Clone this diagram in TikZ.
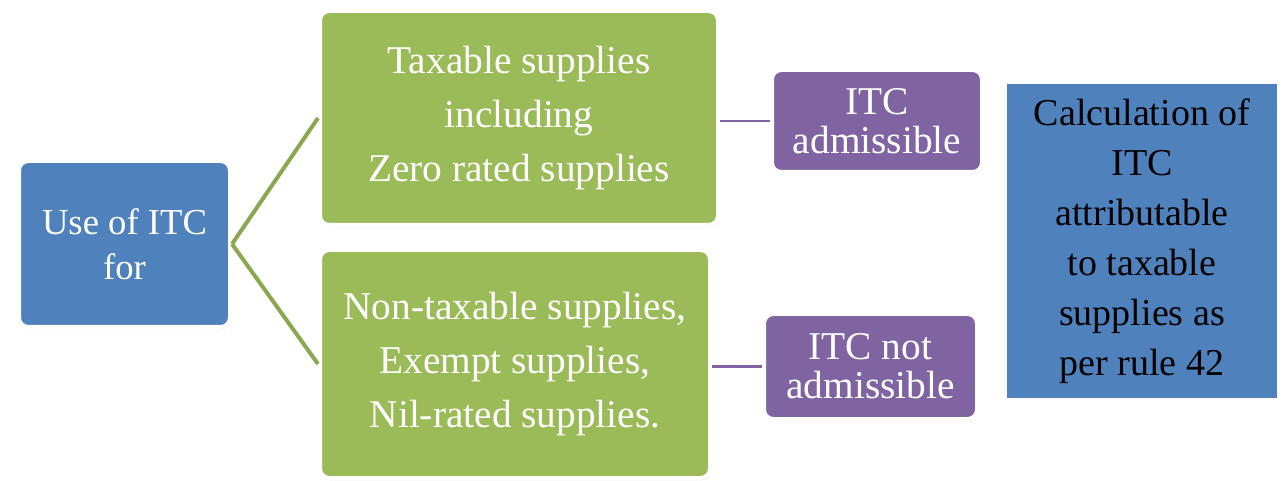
\documentclass[tikz,border=0pt]{standalone}
\usepackage{fontspec}
\setmainfont{Liberation Serif}
\usetikzlibrary{shadows}
\definecolor{itcblue}{HTML}{4F81BD}
\definecolor{itcgreen}{HTML}{9BBB59}
\definecolor{itcpurple}{HTML}{8064A2}
\begin{document}
\begin{tikzpicture}[x=0.75pt,y=-0.75pt,
    box/.style={draw=white, line width=3pt, align=center, inner sep=0pt,
      text=white, rounded corners=7pt,
      drop shadow={shadow xshift=0.6pt, shadow yshift=-1.6pt, opacity=0.3}},
    usebox/.style={box, fill=itcblue, minimum width=211*0.75pt,
      minimum height=166*0.75pt, font=\fontsize{27.5}{34}\selectfont},
    supbox/.style={box, fill=itcgreen, font=\fontsize{29.5}{40.5}\selectfont},
    itcbox/.style={box, fill=itcpurple, minimum width=210*0.75pt,
      minimum height=102*0.75pt, font=\fontsize{29.5}{29.5}\selectfont},
    calcbox/.style={box, fill=itcblue, rounded corners=0pt, text=black,
      minimum width=274*0.75pt, minimum height=318*0.75pt,
      font=\fontsize{28.5}{37.5}\selectfont}]
  \useasboundingbox (0,0) rectangle (1283,481);
  \draw
    (124.5,244) node[usebox] (use){Use of ITC\\for}
    (519,118) node[supbox, minimum width=398*0.75pt, minimum height=214*0.75pt]
      (taxable){Taxable supplies\\including\\Zero rated supplies}
    (515,364) node[supbox, minimum width=390*0.75pt, minimum height=228*0.75pt]
      (nontax){Non-taxable supplies,\\Exempt supplies,\\Nil-rated supplies.}
    (877,121) node[itcbox] (adm){ITC\\admissible}
    (870.5,366.5) node[itcbox, minimum width=213*0.75pt, minimum height=105*0.75pt]
      (notadm){ITC not\\admissible}
    (1142,241) node[calcbox] (calc){Calculation of\\ITC\\attributable\\to taxable\\supplies as\\per rule 42};
  \begin{scope}[itcgreen!90!black, line width=3pt]
    \draw (use.east) to (taxable.west);
    \draw (use.east) to (nontax.west);
  \end{scope}
  \begin{scope}[itcpurple, line width=1.6pt]
    \draw (adm.west -| taxable.east) to (adm.west);
    \draw (notadm.west -| nontax.east) to (notadm.west);
  \end{scope}
\end{tikzpicture}
\end{document}
